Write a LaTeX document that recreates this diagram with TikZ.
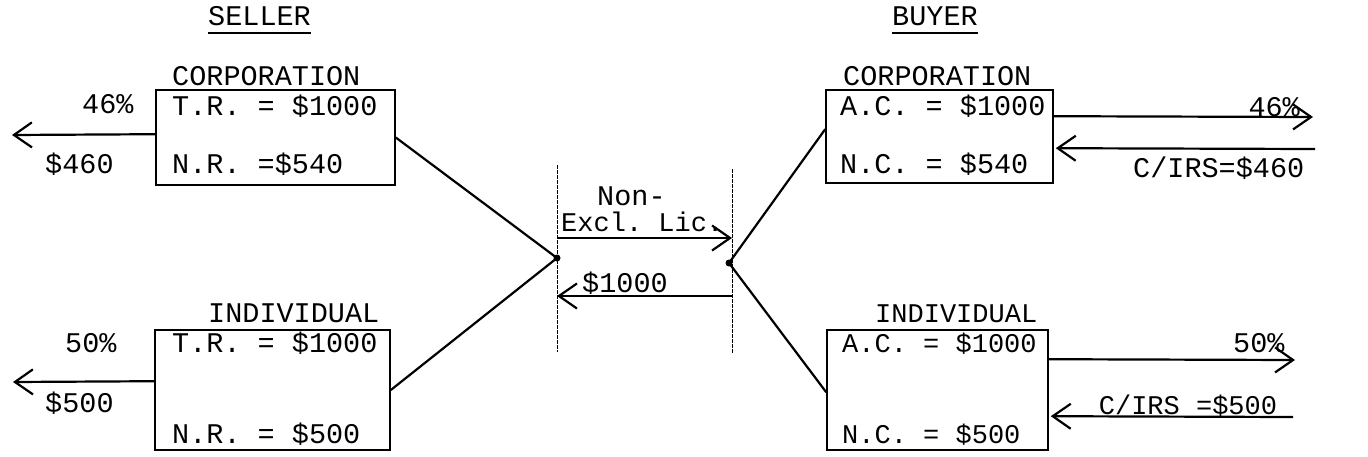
\documentclass[tikz,border=0pt]{standalone}
\usepackage{fontspec}
\setmonofont{Liberation Mono}
\usetikzlibrary{arrows.meta,calc}
\tikzset{
  tw/.style={font=\ttfamily\fontsize{28.5}{30}\selectfont, inner sep=0pt, anchor=base west},
  tws/.style={tw, font=\ttfamily\fontsize{27}{30}\selectfont},
  box/.style={draw, line width=1.6pt, inner sep=0pt},
  link/.style={line width=2.2pt},
  flow/.style={line width=2.2pt, -{Straight Barb[length=18pt,width=25pt,line width=2.2pt]}},
  divider/.style={line width=1pt, dash pattern=on 4pt off 1pt},
  dot/.style={circle, fill, inner sep=0pt, minimum size=7pt}
}
\begin{document}
\begin{tikzpicture}[x=1pt,y=-1pt]
\useasboundingbox (0,0) rectangle (1368,456);
\fill[white] (0,0) rectangle (1368,456);

% headings
\node[tw] (seller) at (208,25) {SELLER};
\node[tw] (buyer) at (892,25) {BUYER};
\draw[line width=1.4pt] ($(seller.base west)+(0,8)$) -- ($(seller.base east)+(0,8)$);
\draw[line width=1.4pt] ($(buyer.base west)+(0,8)$) -- ($(buyer.base east)+(0,8)$);

% boxes
\node[box, minimum width=239pt, minimum height=95pt] (sc) at (275.5,137.5) {};
\node[box, minimum width=235pt, minimum height=120pt] (si) at (272.5,390) {};
\node[box, minimum width=227pt, minimum height=93pt] (bc) at (939.5,136.5) {};
\node[box, minimum width=221pt, minimum height=120pt] (bi) at (937.5,390) {};

% seller corporation
\node[tw] (sct) at (172,85) {CORPORATION};
\node[tw] (sc1) at (172,115) {T.R. = \$1000};
\node[tw] (sc2) at (172,173) {N.R. =\$540};
\node[tw] (scp) at (82,113) {46\%};
\node[tw] (scm) at (45,173) {\$460};

% seller individual
\node[tw] (sit) at (208,322) {INDIVIDUAL};
\node[tw] (si1) at (172,352) {T.R. = \$1000};
\node[tw] (si2) at (172,443) {N.R. = \$500};
\node[tw] (sip) at (65,352) {50\%};
\node[tw] (sim) at (45,412) {\$500};

% buyer corporation
\node[tw] (bct) at (843,85) {CORPORATION};
\node[tw] (bc1) at (840,115) {A.C. = \$1000};
\node[tw] (bc2) at (840,173) {N.C. = \$540};
\node[tw, anchor=base east] (bcp) at (1300,116) {46\%};
\node[tw] (bcm) at (1133,177) {C/IRS=\$460};

% buyer individual
\node[tws] (bit) at (875,322) {INDIVIDUAL};
\node[tws] (bi1) at (842,352) {A.C. = \$1000};
\node[tws] (bi2) at (842,443) {N.C. = \$500};
\node[tw] (bip) at (1233,352) {50\%};
\node[tws, anchor=base] (bim) at (1188,414) {C/IRS =\$500};

% middle
\coordinate (lt) at (557,165);
\coordinate (lb) at (557,352);
\coordinate (rt) at (732,169);
\coordinate (rb) at (732,353);
\draw[divider] (lt) -- (lb);
\draw[divider] (rt) -- (rb);
\node[dot] (lj) at (557,258) {};
\node[dot] (rj) at (729,263) {};
\node[tw] (non) at (597,205) {Non-};
\node[tws] (lic) at (561,231) {Excl. Lic.};
\node[tw] (thou) at (582,292) {\$1000};
\coordinate (a1s) at (557,238);
\coordinate (a1e) at (732,238);
\coordinate (a2s) at (732,296);
\coordinate (a2e) at (557,296);
\draw[flow] (a1s) -- (a1e);
\draw[flow] (a2s) -- (a2e);

% links to junctions
\draw[link] (sc.east) -- (lj.center);
\draw[link] (si.east) -- (lj.center);
\draw[link] (rj.center) -- ($(bc.north west)+(0,40)$);
\draw[link] (rj.center) -- ($(bi.north west)+(0,63)$);

% outer arrows
\coordinate (scx) at (12,135);
\coordinate (six) at (13,382);
\draw[flow] ($(sc.north west)+(0,45)$) -- (scx);
\draw[flow] ($(si.north west)+(0,52)$) -- (six);

\coordinate (bco) at (1313,117);
\coordinate (bci) at (1315,149);
\coordinate (bio) at (1295,360);
\coordinate (bii) at (1293,417);
\draw[flow] ($(bc.north east)+(0,27)$) -- (bco);
\draw[flow] (bci) -- ($(bc.north east)+(2,59)$);
\draw[flow] ($(bi.north east)+(0,30)$) -- (bio);
\draw[flow] (bii) -- ($(bi.north east)+(2,87)$);
\end{tikzpicture}
\end{document}
